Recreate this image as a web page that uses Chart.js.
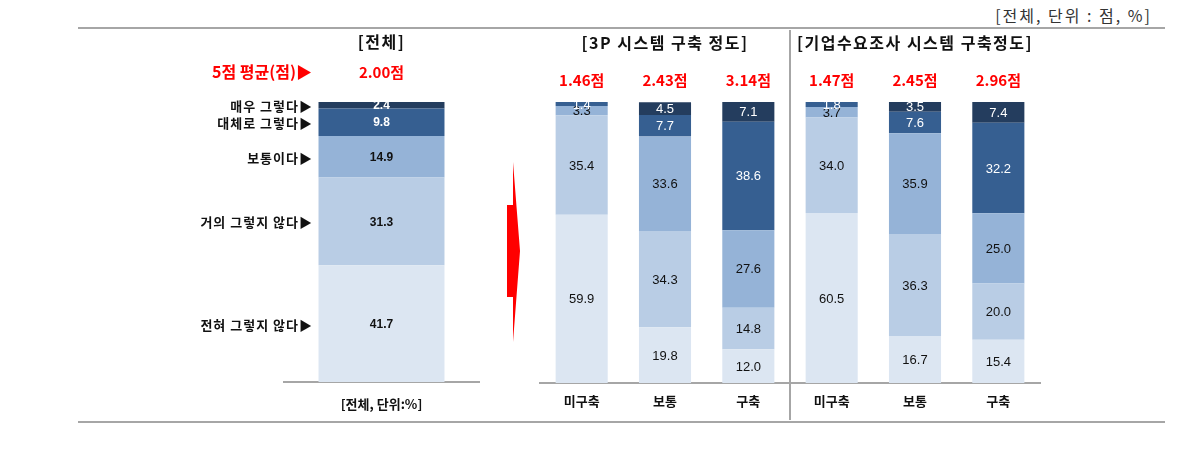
<!DOCTYPE html>
<html>
<head>
<meta charset="utf-8">
<script src="https://cdn.jsdelivr.net/npm/chart.js@4"></script>
<style>
body { margin: 0; background: #fff; }
#wrap { position: relative; width: 1194px; height: 461px; overflow: hidden; }
#wrap canvas { position: absolute; left: 0; top: 0; }
.rule { position: absolute; left: 78px; width: 1087px; height: 0; border-top: 2px solid #a6a6a6; }
#unit { position: absolute; right: 42px; top: 3px; font: 16px 'Noto Sans CJK KR', sans-serif; letter-spacing: 2px; color: #333; }
</style>
</head>
<body>
<div id="wrap">
  <div id="unit">[전체, 단위 : 점, %]</div>
  <div class="rule" style="top:27px"></div>
  <div class="rule" style="top:421px"></div>
  <canvas id="total" width="1194" height="461"></canvas>
  <canvas id="detail" width="1194" height="461"></canvas>
</div>
<script>
// answer levels, bottom to top
const levels = ['전혀 그렇지 않다', '거의 그렇지 않다', '보통이다', '대체로 그렇다', '매우 그렇다'];
const colors = ['#dce6f2', '#b9cde5', '#95b3d7', '#365f91', '#243d5e'];

// left bar: all respondents
const totalLabels = ['[전체, 단위:%]'];
const totalValues = [41.7, 31.3, 14.9, 9.8, 2.4];
const totalScore = 2.00;

// right bars: by system level
const groupTitles = ['[3P 시스템 구축 정도]', '[기업수요조사 시스템 구축정도]'];
const detailLabels = ['미구축', '보통', '구축', '미구축', '보통', '구축'];
const notAtAll = [59.9, 19.8, 12.0, 60.5, 16.7, 15.4];
const hardly = [35.4, 34.3, 14.8, 34.0, 36.3, 20.0];
const neutral = [3.3, 33.6, 27.6, 3.7, 35.9, 25.0];
const mostly = [1.4, 7.7, 38.6, 1.8, 7.6, 32.2];
const very = [0, 4.5, 7.1, 0, 3.5, 7.4];
const detailScores = [1.46, 2.43, 3.14, 1.47, 2.45, 2.96];

const KR = "'Noto Sans CJK KR', sans-serif";
const NUM = "'Liberation Sans', Arial, sans-serif";

// value text in the middle of every segment
function drawSegmentValues(chart, font) {
    const ctx = chart.ctx;
    ctx.save();
    ctx.font = font;
    ctx.textAlign = 'center';
    ctx.textBaseline = 'middle';
    chart.data.datasets.forEach((ds, i) => {
        chart.getDatasetMeta(i).data.forEach((bar, j) => {
            const v = ds.data[j];
            if (!v) return;
            ctx.fillStyle = i >= 3 ? '#fff' : '#111';
            ctx.fillText(v.toFixed(1), bar.x, (bar.y + bar.base) / 2 + 1);
        });
    });
    ctx.restore();
}

const totalPlugin = {
    id: 'totalText',
    afterDatasetsDraw(chart) {
        const ctx = chart.ctx;
        drawSegmentValues(chart, 'bold 12px ' + NUM);
        const cx = chart.getDatasetMeta(0).data[0].x;
        ctx.save();
        ctx.textBaseline = 'middle';
        ctx.textAlign = 'center';
        ctx.fillStyle = '#111';
        ctx.font = 'bold 16px ' + KR;
        ctx.letterSpacing = '1.5px';
        ctx.fillText('[전체]', cx, 42);
        ctx.letterSpacing = '0px';
        ctx.fillStyle = '#ff0000';
        ctx.font = 'bold 15px ' + KR;
        ctx.fillText(totalScore.toFixed(2) + '점', cx, 72);
        ctx.textAlign = 'right';
        ctx.font = 'bold 16px ' + KR;
        ctx.fillText('5점 평균(점)▶', 312, 72);
        // level names beside the bar
        ctx.fillStyle = '#111';
        ctx.font = 'bold 13px ' + KR;
        ctx.letterSpacing = '1px';
        chart.data.datasets.forEach((ds, i) => {
            const bar = chart.getDatasetMeta(i).data[0];
            ctx.fillText(levels[i] + '▶', 313, (bar.y + bar.base) / 2 + 1);
        });
        ctx.letterSpacing = '0px';
        // red arrow
        ctx.fillStyle = '#ff0000';
        ctx.beginPath();
        ctx.moveTo(513, 162);
        ctx.lineTo(520, 251);
        ctx.lineTo(513, 342);
        ctx.lineTo(513, 297);
        ctx.lineTo(507, 297);
        ctx.lineTo(507, 205);
        ctx.lineTo(513, 205);
        ctx.closePath();
        ctx.fill();
        ctx.restore();
    }
};

const detailPlugin = {
    id: 'detailText',
    afterDatasetsDraw(chart) {
        const ctx = chart.ctx;
        const x = chart.scales.x;
        drawSegmentValues(chart, '13px ' + NUM);
        ctx.save();
        // separator between the two groups
        const sep = x.getPixelForValue(2.5);
        ctx.strokeStyle = '#a6a6a6';
        ctx.lineWidth = 2;
        ctx.beginPath();
        ctx.moveTo(sep, 30);
        ctx.lineTo(sep, 420);
        ctx.stroke();
        ctx.textAlign = 'center';
        ctx.textBaseline = 'middle';
        ctx.fillStyle = '#111';
        ctx.font = 'bold 16px ' + KR;
        ctx.letterSpacing = '1.5px';
        groupTitles.forEach((t, g) => {
            ctx.fillText(t, x.getPixelForValue(g * 3 + 1), 43);
        });
        ctx.letterSpacing = '0px';
        ctx.fillStyle = '#ff0000';
        ctx.font = 'bold 15px ' + KR;
        detailScores.forEach((s, i) => {
            ctx.fillText(s.toFixed(2) + '점', x.getPixelForValue(i), 80);
        });
        ctx.restore();
    }
};

function xAxis(pad) {
    return {
        grid: { display: false, drawTicks: false },
        border: { display: true, color: '#a6a6a6', width: 2 },
        ticks: { color: '#111', padding: pad, font: { family: KR, size: 13, weight: 'bold' } },
        afterFit(axis) { axis.height = 40; }
    };
}

new Chart(document.getElementById('total'), {
    type: 'bar',
    data: {
        labels: totalLabels,
        datasets: levels.map((name, i) => ({
            label: name,
            data: [totalValues[i]],
            backgroundColor: colors[i],
            barPercentage: 1,
            categoryPercentage: 0.646
        }))
    },
    options: {
        responsive: false,
        animation: false,
        layout: { padding: { left: 284, right: 715, top: 102, bottom: 39 } },
        plugins: { legend: { display: false }, tooltip: { enabled: false } },
        scales: {
            x: Object.assign({ stacked: true }, xAxis(14)),
            y: { stacked: true, display: false, min: 0, max: 100 }
        }
    },
    plugins: [totalPlugin]
});

const detailSeries = [notAtAll, hardly, neutral, mostly, very];

new Chart(document.getElementById('detail'), {
    type: 'bar',
    data: {
        labels: detailLabels,
        datasets: levels.map((name, i) => ({
            label: name,
            data: detailSeries[i],
            backgroundColor: colors[i],
            barPercentage: 1,
            categoryPercentage: 0.625
        }))
    },
    options: {
        responsive: false,
        animation: false,
        layout: { padding: { left: 540, right: 154, top: 102, bottom: 38 } },
        plugins: { legend: { display: false }, tooltip: { enabled: false } },
        scales: {
            x: Object.assign({ stacked: true }, xAxis(10)),
            y: { stacked: true, display: false, min: 0, max: 100 }
        }
    },
    plugins: [detailPlugin]
});
</script>
</body>
</html>
